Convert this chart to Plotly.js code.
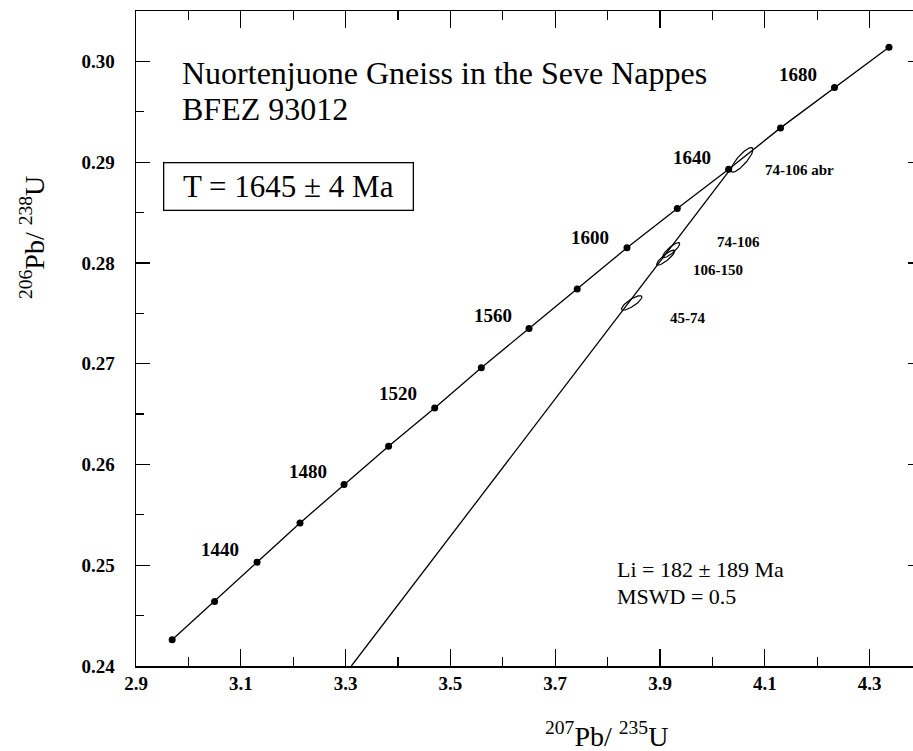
<!DOCTYPE html>
<html>
<head>
<meta charset="utf-8">
<script src="https://cdn.plot.ly/plotly-3.0.1.min.js"></script>
<style>
html,body{margin:0;padding:0;background:#fff;overflow:hidden;}
#plot{width:930px;height:751px;}
</style>
</head>
<body>
<div id="plot"></div>
<script>
// Concordia points (every 20 Ma)
const concAges = [1400,1420,1440,1460,1480,1500,1520,1540,1560,1580,1600,1620,1640,1660,1680,1700];
const concX = [2.969,3.050,3.131,3.213,3.297,3.382,3.470,3.559,3.650,3.742,3.837,3.933,4.031,4.130,4.233,4.337];
const concY = [0.2426,0.2464,0.2503,0.2542,0.2580,0.2618,0.2656,0.2696,0.2735,0.2774,0.2815,0.2854,0.2893,0.2934,0.2974,0.3014];

// Age labels on the concordia
const ageLabelText = ['1440','1480','1520','1560','1600','1640','1680'];
const ageLabelX = [3.061,3.228,3.400,3.581,3.766,3.961,4.163];
const ageLabelY = [0.2516,0.2593,0.2670,0.2748,0.2825,0.2905,0.2987];

// Discordia line (lower end at the x axis, upper end at the concordia)
const discX = [3.311,4.033];
const discY = [0.2400,0.2892];

// Error ellipses: centre, half-widths (x, y) and correlation
const ellName = ['74-106 abr','74-106','106-150','45-74'];
const ellX = [4.0565,3.9214,3.9109,3.8460];
const ellY = [0.29023,0.28127,0.28052,0.27603];
const ellSx = [0.0210,0.0164,0.0173,0.0195];
const ellSy = [0.00122,0.00075,0.00075,0.00072];
const ellRho = [0.84,0.86,0.87,0.82];
const ellLabelX = [4.167,4.049,4.011,3.952];
const ellLabelY = [0.2892,0.2821,0.2793,0.2745];

// Tick values
const xTicks = [2.9,3.1,3.3,3.5,3.7,3.9,4.1,4.3];
const xTickText = ['2.9','3.1','3.3','3.5','3.7','3.9','4.1','4.3'];
const yTicks = [0.24,0.25,0.26,0.27,0.28,0.29,0.30];
const yTickText = ['0.24','0.25','0.26','0.27','0.28','0.29','0.30'];

const FONT = 'Liberation Serif, Times New Roman, serif';

const traces = [];
traces.push({
  x: discX, y: discY, mode: 'lines', type: 'scatter',
  line: {color: '#000', width: 1.3}, hoverinfo: 'skip', showlegend: false
});
traces.push({
  x: concX, y: concY, text: concAges.map(String), mode: 'lines+markers', type: 'scatter',
  line: {color: '#000', width: 1.3},
  marker: {color: '#000', size: 7, symbol: 'circle'},
  showlegend: false
});
// Ellipse outlines drawn from their centre / half-width / correlation parameters
for (let i = 0; i < ellName.length; i++) {
  const ex = [], ey = [];
  const r = ellRho[i], q = Math.sqrt(1 - r * r);
  for (let k = 0; k <= 72; k++) {
    const t = 2 * Math.PI * k / 72;
    ex.push(ellX[i] + ellSx[i] * Math.cos(t));
    ey.push(ellY[i] + ellSy[i] * (r * Math.cos(t) + q * Math.sin(t)));
  }
  traces.push({
    x: ex, y: ey, mode: 'lines', type: 'scatter', name: ellName[i],
    line: {color: '#000', width: 1.2}, hoverinfo: 'name', showlegend: false
  });
}

const annotations = [];
for (let i = 0; i < ageLabelText.length; i++) {
  annotations.push({x: ageLabelX[i], y: ageLabelY[i], xref: 'x', yref: 'y', text: '<b>' + ageLabelText[i] + '</b>',
    showarrow: false, font: {family: FONT, size: 19, color: '#000'}});
}
for (let i = 0; i < ellName.length; i++) {
  annotations.push({x: ellLabelX[i], y: ellLabelY[i], xref: 'x', yref: 'y', text: '<b>' + ellName[i] + '</b>',
    showarrow: false, font: {family: FONT, size: 15, color: '#000'}});
}
annotations.push({x: 0.056, y: 0.905, xref: 'paper', yref: 'paper', xanchor: 'left', yanchor: 'middle',
  text: 'Nuortenjuone Gneiss in the Seve Nappes', showarrow: false, font: {family: FONT, size: 32, color: '#000'}});
annotations.push({x: 0.056, y: 0.850, xref: 'paper', yref: 'paper', xanchor: 'left', yanchor: 'middle',
  text: 'BFEZ 93012', showarrow: false, font: {family: FONT, size: 32, color: '#000'}});
annotations.push({x: 0.1934, y: 0.7328, xref: 'paper', yref: 'paper', xanchor: 'center', yanchor: 'middle',
  text: 'T = 1645 ± 4 Ma', showarrow: false, font: {family: FONT, size: 31, color: '#000'},
  bordercolor: '#000', borderwidth: 1.3, borderpad: 4, width: 240, height: 38});
annotations.push({x: 0.6094, y: 0.1466, xref: 'paper', yref: 'paper', xanchor: 'left', yanchor: 'middle',
  text: 'Li = 182 ± 189 Ma', showarrow: false, font: {family: FONT, size: 22, color: '#000'}});
annotations.push({x: 0.6094, y: 0.1061, xref: 'paper', yref: 'paper', xanchor: 'left', yanchor: 'middle',
  text: 'MSWD = 0.5', showarrow: false, font: {family: FONT, size: 22, color: '#000'}});
// Axis titles
annotations.push({x: 0.598, y: -0.104, xref: 'paper', yref: 'paper', xanchor: 'center', yanchor: 'middle',
  text: '<sup>207</sup>Pb/ <sup>235</sup>U', showarrow: false, font: {family: FONT, size: 28, color: '#000'}});
annotations.push({x: -0.1323, y: 0.6534, xref: 'paper', yref: 'paper', xanchor: 'center', yanchor: 'middle',
  textangle: -90, text: '<sup>206</sup>Pb/ <sup>238</sup>U', showarrow: false, font: {family: FONT, size: 28, color: '#000'}});

const layout = {
  width: 930, height: 751,
  margin: {l: 136, r: 8, t: 11, b: 85},
  paper_bgcolor: '#fff', plot_bgcolor: '#fff',
  showlegend: false,
  xaxis: {
    range: [2.9, 4.4], showgrid: false, zeroline: false,
    showline: true, linecolor: '#000', linewidth: 1.5, mirror: 'ticks',
    ticks: 'inside', ticklen: 17, tickwidth: 1.3, tickcolor: '#000',
    tickvals: xTicks, ticktext: xTickText,
    tickfont: {family: FONT, size: 19, color: '#000', weight: 'bold'},
    minor: {dtick: 0.1, tick0: 2.9, ticks: 'inside', ticklen: 9, tickwidth: 1.3, tickcolor: '#000', showgrid: false}
  },
  yaxis: {
    range: [0.24, 0.305], showgrid: false, zeroline: false,
    showline: true, linecolor: '#000', linewidth: 1.5, mirror: 'ticks',
    ticks: 'inside', ticklen: 14, tickwidth: 1.3, tickcolor: '#000',
    tickvals: yTicks, ticktext: yTickText, ticklabelstandoff: 16,
    tickfont: {family: FONT, size: 19, color: '#000', weight: 'bold'},
    minor: {dtick: 0.005, tick0: 0.24, ticks: 'inside', ticklen: 8, tickwidth: 1.3, tickcolor: '#000', showgrid: false}
  },
  annotations: annotations
};

Plotly.newPlot('plot', traces, layout, {displayModeBar: false, staticPlot: true});
</script>
</body>
</html>
